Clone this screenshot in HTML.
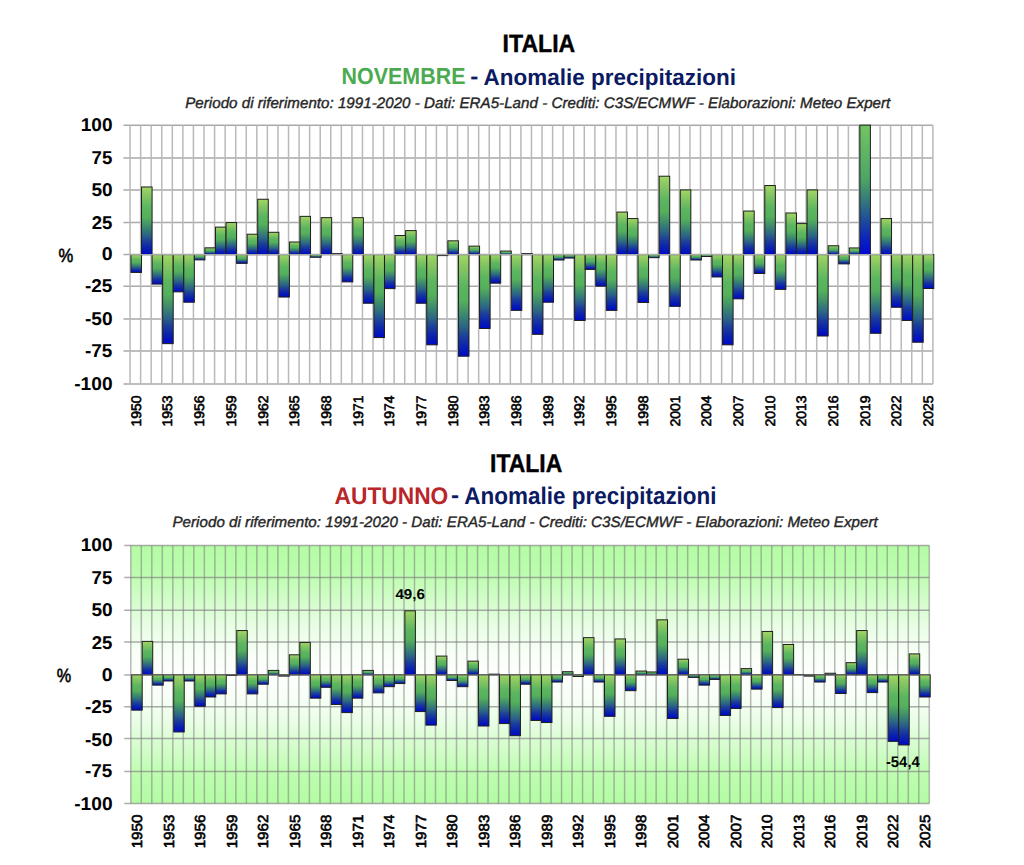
<!DOCTYPE html>
<html><head><meta charset="utf-8"><style>
html,body{margin:0;padding:0;background:#fff;width:1024px;height:865px;overflow:hidden}
svg{display:block}
text{font-family:"Liberation Sans",sans-serif;text-rendering:geometricPrecision}
</style></head><body>
<svg width="1024" height="865" viewBox="0 0 1024 865">
<defs>
<linearGradient id="bar" x1="0" y1="0" x2="0" y2="1">
 <stop offset="0" stop-color="#a2da68"/>
 <stop offset="0.06" stop-color="#94ce63"/>
 <stop offset="0.10" stop-color="#8cc862"/>
 <stop offset="0.30" stop-color="#5cb660"/>
 <stop offset="0.45" stop-color="#55b05c"/>
 <stop offset="0.58" stop-color="#3f8c6c"/>
 <stop offset="0.65" stop-color="#33767a"/>
 <stop offset="0.71" stop-color="#2b6486"/>
 <stop offset="0.81" stop-color="#1b3c9c"/>
 <stop offset="0.88" stop-color="#0e28aa"/>
 <stop offset="0.94" stop-color="#0518b8"/>
 <stop offset="1" stop-color="#0008c8"/>
</linearGradient>
<linearGradient id="g1top" x1="0" y1="0" x2="0" y2="1">
 <stop offset="0" stop-color="#72c462"/>
 <stop offset="0.42" stop-color="#4ca566"/>
 <stop offset="0.58" stop-color="#357a7a"/>
 <stop offset="0.73" stop-color="#1e4d9a"/>
 <stop offset="0.89" stop-color="#0a20c0"/>
 <stop offset="1" stop-color="#0008d8"/>
</linearGradient>
<linearGradient id="bg2" x1="0" y1="0" x2="0" y2="1">
 <stop offset="0" stop-color="#b4fca4"/>
 <stop offset="0.10" stop-color="#bbfdad"/>
 <stop offset="0.21" stop-color="#d2fdc9"/>
 <stop offset="0.31" stop-color="#e8fee4"/>
 <stop offset="0.42" stop-color="#f8fff7"/>
 <stop offset="0.5" stop-color="#fdfffd"/>
 <stop offset="0.58" stop-color="#f8fff7"/>
 <stop offset="0.69" stop-color="#e8fee4"/>
 <stop offset="0.79" stop-color="#d2fdc9"/>
 <stop offset="0.90" stop-color="#bbfdad"/>
 <stop offset="1" stop-color="#b4fca4"/>
</linearGradient>
</defs>
<rect width="1024" height="865" fill="#fff"/>
<line x1="123.46" y1="125.15" x2="932.90" y2="125.15" stroke="#a9a9a9" stroke-width="1.5"/>
<line x1="123.46" y1="157.90" x2="932.90" y2="157.90" stroke="#a9a9a9" stroke-width="1.5"/>
<line x1="123.46" y1="189.90" x2="932.90" y2="189.90" stroke="#a9a9a9" stroke-width="1.5"/>
<line x1="123.46" y1="222.50" x2="932.90" y2="222.50" stroke="#a9a9a9" stroke-width="1.5"/>
<line x1="123.46" y1="254.60" x2="932.90" y2="254.60" stroke="#a9a9a9" stroke-width="1.5"/>
<line x1="123.46" y1="286.20" x2="932.90" y2="286.20" stroke="#a9a9a9" stroke-width="1.5"/>
<line x1="123.46" y1="319.10" x2="932.90" y2="319.10" stroke="#a9a9a9" stroke-width="1.5"/>
<line x1="123.46" y1="351.00" x2="932.90" y2="351.00" stroke="#a9a9a9" stroke-width="1.5"/>
<line x1="123.46" y1="384.05" x2="932.90" y2="384.05" stroke="#a9a9a9" stroke-width="1.5"/>
<line x1="130.06" y1="125.15" x2="130.06" y2="384.05" stroke="#b9b9b9" stroke-width="1.5"/>
<line x1="140.62" y1="125.15" x2="140.62" y2="384.05" stroke="#b9b9b9" stroke-width="1.5"/>
<line x1="151.19" y1="125.15" x2="151.19" y2="384.05" stroke="#b9b9b9" stroke-width="1.5"/>
<line x1="161.75" y1="125.15" x2="161.75" y2="384.05" stroke="#b9b9b9" stroke-width="1.5"/>
<line x1="172.31" y1="125.15" x2="172.31" y2="384.05" stroke="#b9b9b9" stroke-width="1.5"/>
<line x1="182.88" y1="125.15" x2="182.88" y2="384.05" stroke="#b9b9b9" stroke-width="1.5"/>
<line x1="193.44" y1="125.15" x2="193.44" y2="384.05" stroke="#b9b9b9" stroke-width="1.5"/>
<line x1="204.01" y1="125.15" x2="204.01" y2="384.05" stroke="#b9b9b9" stroke-width="1.5"/>
<line x1="214.57" y1="125.15" x2="214.57" y2="384.05" stroke="#b9b9b9" stroke-width="1.5"/>
<line x1="225.13" y1="125.15" x2="225.13" y2="384.05" stroke="#b9b9b9" stroke-width="1.5"/>
<line x1="235.70" y1="125.15" x2="235.70" y2="384.05" stroke="#b9b9b9" stroke-width="1.5"/>
<line x1="246.26" y1="125.15" x2="246.26" y2="384.05" stroke="#b9b9b9" stroke-width="1.5"/>
<line x1="256.82" y1="125.15" x2="256.82" y2="384.05" stroke="#b9b9b9" stroke-width="1.5"/>
<line x1="267.39" y1="125.15" x2="267.39" y2="384.05" stroke="#b9b9b9" stroke-width="1.5"/>
<line x1="277.95" y1="125.15" x2="277.95" y2="384.05" stroke="#b9b9b9" stroke-width="1.5"/>
<line x1="288.52" y1="125.15" x2="288.52" y2="384.05" stroke="#b9b9b9" stroke-width="1.5"/>
<line x1="299.08" y1="125.15" x2="299.08" y2="384.05" stroke="#b9b9b9" stroke-width="1.5"/>
<line x1="309.64" y1="125.15" x2="309.64" y2="384.05" stroke="#b9b9b9" stroke-width="1.5"/>
<line x1="320.21" y1="125.15" x2="320.21" y2="384.05" stroke="#b9b9b9" stroke-width="1.5"/>
<line x1="330.77" y1="125.15" x2="330.77" y2="384.05" stroke="#b9b9b9" stroke-width="1.5"/>
<line x1="341.33" y1="125.15" x2="341.33" y2="384.05" stroke="#b9b9b9" stroke-width="1.5"/>
<line x1="351.90" y1="125.15" x2="351.90" y2="384.05" stroke="#b9b9b9" stroke-width="1.5"/>
<line x1="362.46" y1="125.15" x2="362.46" y2="384.05" stroke="#b9b9b9" stroke-width="1.5"/>
<line x1="373.02" y1="125.15" x2="373.02" y2="384.05" stroke="#b9b9b9" stroke-width="1.5"/>
<line x1="383.59" y1="125.15" x2="383.59" y2="384.05" stroke="#b9b9b9" stroke-width="1.5"/>
<line x1="394.15" y1="125.15" x2="394.15" y2="384.05" stroke="#b9b9b9" stroke-width="1.5"/>
<line x1="404.72" y1="125.15" x2="404.72" y2="384.05" stroke="#b9b9b9" stroke-width="1.5"/>
<line x1="415.28" y1="125.15" x2="415.28" y2="384.05" stroke="#b9b9b9" stroke-width="1.5"/>
<line x1="425.84" y1="125.15" x2="425.84" y2="384.05" stroke="#b9b9b9" stroke-width="1.5"/>
<line x1="436.41" y1="125.15" x2="436.41" y2="384.05" stroke="#b9b9b9" stroke-width="1.5"/>
<line x1="446.97" y1="125.15" x2="446.97" y2="384.05" stroke="#b9b9b9" stroke-width="1.5"/>
<line x1="457.53" y1="125.15" x2="457.53" y2="384.05" stroke="#b9b9b9" stroke-width="1.5"/>
<line x1="468.10" y1="125.15" x2="468.10" y2="384.05" stroke="#b9b9b9" stroke-width="1.5"/>
<line x1="478.66" y1="125.15" x2="478.66" y2="384.05" stroke="#b9b9b9" stroke-width="1.5"/>
<line x1="489.23" y1="125.15" x2="489.23" y2="384.05" stroke="#b9b9b9" stroke-width="1.5"/>
<line x1="499.79" y1="125.15" x2="499.79" y2="384.05" stroke="#b9b9b9" stroke-width="1.5"/>
<line x1="510.35" y1="125.15" x2="510.35" y2="384.05" stroke="#b9b9b9" stroke-width="1.5"/>
<line x1="520.92" y1="125.15" x2="520.92" y2="384.05" stroke="#b9b9b9" stroke-width="1.5"/>
<line x1="531.48" y1="125.15" x2="531.48" y2="384.05" stroke="#b9b9b9" stroke-width="1.5"/>
<line x1="542.04" y1="125.15" x2="542.04" y2="384.05" stroke="#b9b9b9" stroke-width="1.5"/>
<line x1="552.61" y1="125.15" x2="552.61" y2="384.05" stroke="#b9b9b9" stroke-width="1.5"/>
<line x1="563.17" y1="125.15" x2="563.17" y2="384.05" stroke="#b9b9b9" stroke-width="1.5"/>
<line x1="573.73" y1="125.15" x2="573.73" y2="384.05" stroke="#b9b9b9" stroke-width="1.5"/>
<line x1="584.30" y1="125.15" x2="584.30" y2="384.05" stroke="#b9b9b9" stroke-width="1.5"/>
<line x1="594.86" y1="125.15" x2="594.86" y2="384.05" stroke="#b9b9b9" stroke-width="1.5"/>
<line x1="605.43" y1="125.15" x2="605.43" y2="384.05" stroke="#b9b9b9" stroke-width="1.5"/>
<line x1="615.99" y1="125.15" x2="615.99" y2="384.05" stroke="#b9b9b9" stroke-width="1.5"/>
<line x1="626.55" y1="125.15" x2="626.55" y2="384.05" stroke="#b9b9b9" stroke-width="1.5"/>
<line x1="637.12" y1="125.15" x2="637.12" y2="384.05" stroke="#b9b9b9" stroke-width="1.5"/>
<line x1="647.68" y1="125.15" x2="647.68" y2="384.05" stroke="#b9b9b9" stroke-width="1.5"/>
<line x1="658.24" y1="125.15" x2="658.24" y2="384.05" stroke="#b9b9b9" stroke-width="1.5"/>
<line x1="668.81" y1="125.15" x2="668.81" y2="384.05" stroke="#b9b9b9" stroke-width="1.5"/>
<line x1="679.37" y1="125.15" x2="679.37" y2="384.05" stroke="#b9b9b9" stroke-width="1.5"/>
<line x1="689.94" y1="125.15" x2="689.94" y2="384.05" stroke="#b9b9b9" stroke-width="1.5"/>
<line x1="700.50" y1="125.15" x2="700.50" y2="384.05" stroke="#b9b9b9" stroke-width="1.5"/>
<line x1="711.06" y1="125.15" x2="711.06" y2="384.05" stroke="#b9b9b9" stroke-width="1.5"/>
<line x1="721.63" y1="125.15" x2="721.63" y2="384.05" stroke="#b9b9b9" stroke-width="1.5"/>
<line x1="732.19" y1="125.15" x2="732.19" y2="384.05" stroke="#b9b9b9" stroke-width="1.5"/>
<line x1="742.75" y1="125.15" x2="742.75" y2="384.05" stroke="#b9b9b9" stroke-width="1.5"/>
<line x1="753.32" y1="125.15" x2="753.32" y2="384.05" stroke="#b9b9b9" stroke-width="1.5"/>
<line x1="763.88" y1="125.15" x2="763.88" y2="384.05" stroke="#b9b9b9" stroke-width="1.5"/>
<line x1="774.44" y1="125.15" x2="774.44" y2="384.05" stroke="#b9b9b9" stroke-width="1.5"/>
<line x1="785.01" y1="125.15" x2="785.01" y2="384.05" stroke="#b9b9b9" stroke-width="1.5"/>
<line x1="795.57" y1="125.15" x2="795.57" y2="384.05" stroke="#b9b9b9" stroke-width="1.5"/>
<line x1="806.14" y1="125.15" x2="806.14" y2="384.05" stroke="#b9b9b9" stroke-width="1.5"/>
<line x1="816.70" y1="125.15" x2="816.70" y2="384.05" stroke="#b9b9b9" stroke-width="1.5"/>
<line x1="827.26" y1="125.15" x2="827.26" y2="384.05" stroke="#b9b9b9" stroke-width="1.5"/>
<line x1="837.83" y1="125.15" x2="837.83" y2="384.05" stroke="#b9b9b9" stroke-width="1.5"/>
<line x1="848.39" y1="125.15" x2="848.39" y2="384.05" stroke="#b9b9b9" stroke-width="1.5"/>
<line x1="858.95" y1="125.15" x2="858.95" y2="384.05" stroke="#b9b9b9" stroke-width="1.5"/>
<line x1="869.52" y1="125.15" x2="869.52" y2="384.05" stroke="#b9b9b9" stroke-width="1.5"/>
<line x1="880.08" y1="125.15" x2="880.08" y2="384.05" stroke="#b9b9b9" stroke-width="1.5"/>
<line x1="890.65" y1="125.15" x2="890.65" y2="384.05" stroke="#b9b9b9" stroke-width="1.5"/>
<line x1="901.21" y1="125.15" x2="901.21" y2="384.05" stroke="#b9b9b9" stroke-width="1.5"/>
<line x1="911.77" y1="125.15" x2="911.77" y2="384.05" stroke="#b9b9b9" stroke-width="1.5"/>
<line x1="922.34" y1="125.15" x2="922.34" y2="384.05" stroke="#b9b9b9" stroke-width="1.5"/>
<line x1="932.90" y1="125.15" x2="932.90" y2="384.05" stroke="#b9b9b9" stroke-width="1.5"/>
<rect x="130.96" y="254.60" width="10.56" height="17.83" fill="url(#bar)" stroke="#1e1e1e" stroke-width="1"/>
<rect x="141.52" y="186.96" width="10.56" height="67.64" fill="url(#bar)" stroke="#1e1e1e" stroke-width="1"/>
<rect x="152.09" y="254.60" width="10.56" height="29.49" fill="url(#bar)" stroke="#1e1e1e" stroke-width="1"/>
<rect x="162.65" y="254.60" width="10.56" height="89.05" fill="url(#bar)" stroke="#1e1e1e" stroke-width="1"/>
<rect x="173.21" y="254.60" width="10.56" height="37.26" fill="url(#bar)" stroke="#1e1e1e" stroke-width="1"/>
<rect x="183.78" y="254.60" width="10.56" height="47.62" fill="url(#bar)" stroke="#1e1e1e" stroke-width="1"/>
<rect x="194.34" y="254.60" width="10.56" height="5.27" fill="url(#bar)" stroke="#1e1e1e" stroke-width="1"/>
<rect x="204.91" y="247.83" width="10.56" height="6.77" fill="url(#bar)" stroke="#1e1e1e" stroke-width="1"/>
<rect x="215.47" y="227.11" width="10.56" height="27.49" fill="url(#bar)" stroke="#1e1e1e" stroke-width="1"/>
<rect x="226.03" y="222.57" width="10.56" height="32.03" fill="url(#bar)" stroke="#1e1e1e" stroke-width="1"/>
<rect x="236.60" y="254.60" width="10.56" height="8.77" fill="url(#bar)" stroke="#1e1e1e" stroke-width="1"/>
<rect x="247.16" y="234.23" width="10.56" height="20.37" fill="url(#bar)" stroke="#1e1e1e" stroke-width="1"/>
<rect x="257.72" y="199.26" width="10.56" height="55.34" fill="url(#bar)" stroke="#1e1e1e" stroke-width="1"/>
<rect x="268.29" y="232.29" width="10.56" height="22.31" fill="url(#bar)" stroke="#1e1e1e" stroke-width="1"/>
<rect x="278.85" y="254.60" width="10.56" height="42.44" fill="url(#bar)" stroke="#1e1e1e" stroke-width="1"/>
<rect x="289.42" y="242.00" width="10.56" height="12.60" fill="url(#bar)" stroke="#1e1e1e" stroke-width="1"/>
<rect x="299.98" y="216.36" width="10.56" height="38.24" fill="url(#bar)" stroke="#1e1e1e" stroke-width="1"/>
<rect x="310.54" y="254.60" width="10.56" height="2.68" fill="url(#bar)" stroke="#1e1e1e" stroke-width="1"/>
<rect x="321.11" y="217.65" width="10.56" height="36.95" fill="url(#bar)" stroke="#1e1e1e" stroke-width="1"/>
<rect x="331.67" y="253.65" width="10.56" height="0.95" fill="#1b5e8a" stroke="#222" stroke-width="1"/>
<rect x="342.23" y="254.60" width="10.56" height="27.28" fill="url(#bar)" stroke="#1e1e1e" stroke-width="1"/>
<rect x="352.80" y="217.65" width="10.56" height="36.95" fill="url(#bar)" stroke="#1e1e1e" stroke-width="1"/>
<rect x="363.36" y="254.60" width="10.56" height="48.65" fill="url(#bar)" stroke="#1e1e1e" stroke-width="1"/>
<rect x="373.92" y="254.60" width="10.56" height="82.97" fill="url(#bar)" stroke="#1e1e1e" stroke-width="1"/>
<rect x="384.49" y="254.60" width="10.56" height="34.02" fill="url(#bar)" stroke="#1e1e1e" stroke-width="1"/>
<rect x="395.05" y="235.52" width="10.56" height="19.08" fill="url(#bar)" stroke="#1e1e1e" stroke-width="1"/>
<rect x="405.62" y="230.60" width="10.56" height="24.00" fill="url(#bar)" stroke="#1e1e1e" stroke-width="1"/>
<rect x="416.18" y="254.60" width="10.56" height="48.65" fill="url(#bar)" stroke="#1e1e1e" stroke-width="1"/>
<rect x="426.74" y="254.60" width="10.56" height="90.22" fill="url(#bar)" stroke="#1e1e1e" stroke-width="1"/>
<rect x="437.31" y="254.60" width="10.56" height="1.00" fill="#1b5e8a" stroke="#222" stroke-width="1"/>
<rect x="447.87" y="240.83" width="10.56" height="13.77" fill="url(#bar)" stroke="#1e1e1e" stroke-width="1"/>
<rect x="458.43" y="254.60" width="10.56" height="101.62" fill="url(#bar)" stroke="#1e1e1e" stroke-width="1"/>
<rect x="469.00" y="246.14" width="10.56" height="8.46" fill="url(#bar)" stroke="#1e1e1e" stroke-width="1"/>
<rect x="479.56" y="254.60" width="10.56" height="73.90" fill="url(#bar)" stroke="#1e1e1e" stroke-width="1"/>
<rect x="490.13" y="254.60" width="10.56" height="28.58" fill="url(#bar)" stroke="#1e1e1e" stroke-width="1"/>
<rect x="500.69" y="251.06" width="10.56" height="3.54" fill="url(#bar)" stroke="#1e1e1e" stroke-width="1"/>
<rect x="511.25" y="254.60" width="10.56" height="55.77" fill="url(#bar)" stroke="#1e1e1e" stroke-width="1"/>
<rect x="521.82" y="253.65" width="10.56" height="0.95" fill="#1b5e8a" stroke="#222" stroke-width="1"/>
<rect x="532.38" y="254.60" width="10.56" height="79.73" fill="url(#bar)" stroke="#1e1e1e" stroke-width="1"/>
<rect x="542.94" y="254.60" width="10.56" height="47.62" fill="url(#bar)" stroke="#1e1e1e" stroke-width="1"/>
<rect x="553.51" y="254.60" width="10.56" height="5.40" fill="url(#bar)" stroke="#1e1e1e" stroke-width="1"/>
<rect x="564.07" y="254.60" width="10.56" height="3.46" fill="url(#bar)" stroke="#1e1e1e" stroke-width="1"/>
<rect x="574.63" y="254.60" width="10.56" height="65.87" fill="url(#bar)" stroke="#1e1e1e" stroke-width="1"/>
<rect x="585.20" y="254.60" width="10.56" height="14.85" fill="url(#bar)" stroke="#1e1e1e" stroke-width="1"/>
<rect x="595.76" y="254.60" width="10.56" height="31.56" fill="url(#bar)" stroke="#1e1e1e" stroke-width="1"/>
<rect x="606.33" y="254.60" width="10.56" height="55.77" fill="url(#bar)" stroke="#1e1e1e" stroke-width="1"/>
<rect x="616.89" y="212.08" width="10.56" height="42.52" fill="url(#bar)" stroke="#1e1e1e" stroke-width="1"/>
<rect x="627.45" y="218.56" width="10.56" height="36.04" fill="url(#bar)" stroke="#1e1e1e" stroke-width="1"/>
<rect x="638.02" y="254.60" width="10.56" height="47.87" fill="url(#bar)" stroke="#1e1e1e" stroke-width="1"/>
<rect x="648.58" y="254.60" width="10.56" height="3.07" fill="url(#bar)" stroke="#1e1e1e" stroke-width="1"/>
<rect x="659.14" y="176.21" width="10.56" height="78.39" fill="url(#bar)" stroke="#1e1e1e" stroke-width="1"/>
<rect x="669.71" y="254.60" width="10.56" height="51.76" fill="url(#bar)" stroke="#1e1e1e" stroke-width="1"/>
<rect x="680.27" y="189.94" width="10.56" height="64.66" fill="url(#bar)" stroke="#1e1e1e" stroke-width="1"/>
<rect x="690.84" y="254.60" width="10.56" height="5.40" fill="url(#bar)" stroke="#1e1e1e" stroke-width="1"/>
<rect x="701.40" y="254.60" width="10.56" height="1.90" fill="url(#bar)" stroke="#1e1e1e" stroke-width="1"/>
<rect x="711.96" y="254.60" width="10.56" height="22.36" fill="url(#bar)" stroke="#1e1e1e" stroke-width="1"/>
<rect x="722.53" y="254.60" width="10.56" height="90.22" fill="url(#bar)" stroke="#1e1e1e" stroke-width="1"/>
<rect x="733.09" y="254.60" width="10.56" height="44.25" fill="url(#bar)" stroke="#1e1e1e" stroke-width="1"/>
<rect x="743.65" y="211.05" width="10.56" height="43.55" fill="url(#bar)" stroke="#1e1e1e" stroke-width="1"/>
<rect x="754.22" y="254.60" width="10.56" height="18.87" fill="url(#bar)" stroke="#1e1e1e" stroke-width="1"/>
<rect x="764.78" y="185.54" width="10.56" height="69.06" fill="url(#bar)" stroke="#1e1e1e" stroke-width="1"/>
<rect x="775.34" y="254.60" width="10.56" height="34.79" fill="url(#bar)" stroke="#1e1e1e" stroke-width="1"/>
<rect x="785.91" y="212.99" width="10.56" height="41.61" fill="url(#bar)" stroke="#1e1e1e" stroke-width="1"/>
<rect x="796.47" y="223.61" width="10.56" height="30.99" fill="url(#bar)" stroke="#1e1e1e" stroke-width="1"/>
<rect x="807.04" y="189.94" width="10.56" height="64.66" fill="url(#bar)" stroke="#1e1e1e" stroke-width="1"/>
<rect x="817.60" y="254.60" width="10.56" height="81.41" fill="url(#bar)" stroke="#1e1e1e" stroke-width="1"/>
<rect x="828.16" y="245.75" width="10.56" height="8.85" fill="url(#bar)" stroke="#1e1e1e" stroke-width="1"/>
<rect x="838.73" y="254.60" width="10.56" height="9.28" fill="url(#bar)" stroke="#1e1e1e" stroke-width="1"/>
<rect x="849.29" y="247.95" width="10.56" height="6.65" fill="url(#bar)" stroke="#1e1e1e" stroke-width="1"/>
<rect x="859.85" y="125.15" width="10.56" height="129.45" fill="url(#g1top)" stroke="#1e1e1e" stroke-width="1"/>
<rect x="870.42" y="254.60" width="10.56" height="78.70" fill="url(#bar)" stroke="#1e1e1e" stroke-width="1"/>
<rect x="880.98" y="218.56" width="10.56" height="36.04" fill="url(#bar)" stroke="#1e1e1e" stroke-width="1"/>
<rect x="891.55" y="254.60" width="10.56" height="52.67" fill="url(#bar)" stroke="#1e1e1e" stroke-width="1"/>
<rect x="902.11" y="254.60" width="10.56" height="65.87" fill="url(#bar)" stroke="#1e1e1e" stroke-width="1"/>
<rect x="912.67" y="254.60" width="10.56" height="87.63" fill="url(#bar)" stroke="#1e1e1e" stroke-width="1"/>
<rect x="923.24" y="254.60" width="10.56" height="33.89" fill="url(#bar)" stroke="#1e1e1e" stroke-width="1"/>
<line x1="130.06" y1="254.60" x2="932.90" y2="254.60" stroke="#a9a9a9" stroke-width="1.3"/>
<rect x="130.8" y="545.6" width="798.5" height="257.79999999999995" fill="url(#bg2)"/>
<line x1="124.20" y1="545.60" x2="929.30" y2="545.60" stroke="rgba(128,128,128,0.65)" stroke-width="1.5"/>
<line x1="124.20" y1="577.50" x2="929.30" y2="577.50" stroke="rgba(128,128,128,0.65)" stroke-width="1.5"/>
<line x1="124.20" y1="610.30" x2="929.30" y2="610.30" stroke="rgba(128,128,128,0.65)" stroke-width="1.5"/>
<line x1="124.20" y1="642.00" x2="929.30" y2="642.00" stroke="rgba(128,128,128,0.65)" stroke-width="1.5"/>
<line x1="124.20" y1="674.90" x2="929.30" y2="674.90" stroke="rgba(128,128,128,0.65)" stroke-width="1.5"/>
<line x1="124.20" y1="706.70" x2="929.30" y2="706.70" stroke="rgba(128,128,128,0.65)" stroke-width="1.5"/>
<line x1="124.20" y1="738.60" x2="929.30" y2="738.60" stroke="rgba(128,128,128,0.65)" stroke-width="1.5"/>
<line x1="124.20" y1="771.60" x2="929.30" y2="771.60" stroke="rgba(128,128,128,0.65)" stroke-width="1.5"/>
<line x1="124.20" y1="803.40" x2="929.30" y2="803.40" stroke="rgba(128,128,128,0.65)" stroke-width="1.5"/>
<line x1="130.80" y1="545.60" x2="130.80" y2="803.40" stroke="rgba(128,128,128,0.55)" stroke-width="1.5"/>
<line x1="141.31" y1="545.60" x2="141.31" y2="803.40" stroke="rgba(128,128,128,0.55)" stroke-width="1.5"/>
<line x1="151.81" y1="545.60" x2="151.81" y2="803.40" stroke="rgba(128,128,128,0.55)" stroke-width="1.5"/>
<line x1="162.32" y1="545.60" x2="162.32" y2="803.40" stroke="rgba(128,128,128,0.55)" stroke-width="1.5"/>
<line x1="172.83" y1="545.60" x2="172.83" y2="803.40" stroke="rgba(128,128,128,0.55)" stroke-width="1.5"/>
<line x1="183.33" y1="545.60" x2="183.33" y2="803.40" stroke="rgba(128,128,128,0.55)" stroke-width="1.5"/>
<line x1="193.84" y1="545.60" x2="193.84" y2="803.40" stroke="rgba(128,128,128,0.55)" stroke-width="1.5"/>
<line x1="204.35" y1="545.60" x2="204.35" y2="803.40" stroke="rgba(128,128,128,0.55)" stroke-width="1.5"/>
<line x1="214.85" y1="545.60" x2="214.85" y2="803.40" stroke="rgba(128,128,128,0.55)" stroke-width="1.5"/>
<line x1="225.36" y1="545.60" x2="225.36" y2="803.40" stroke="rgba(128,128,128,0.55)" stroke-width="1.5"/>
<line x1="235.87" y1="545.60" x2="235.87" y2="803.40" stroke="rgba(128,128,128,0.55)" stroke-width="1.5"/>
<line x1="246.37" y1="545.60" x2="246.37" y2="803.40" stroke="rgba(128,128,128,0.55)" stroke-width="1.5"/>
<line x1="256.88" y1="545.60" x2="256.88" y2="803.40" stroke="rgba(128,128,128,0.55)" stroke-width="1.5"/>
<line x1="267.39" y1="545.60" x2="267.39" y2="803.40" stroke="rgba(128,128,128,0.55)" stroke-width="1.5"/>
<line x1="277.89" y1="545.60" x2="277.89" y2="803.40" stroke="rgba(128,128,128,0.55)" stroke-width="1.5"/>
<line x1="288.40" y1="545.60" x2="288.40" y2="803.40" stroke="rgba(128,128,128,0.55)" stroke-width="1.5"/>
<line x1="298.91" y1="545.60" x2="298.91" y2="803.40" stroke="rgba(128,128,128,0.55)" stroke-width="1.5"/>
<line x1="309.41" y1="545.60" x2="309.41" y2="803.40" stroke="rgba(128,128,128,0.55)" stroke-width="1.5"/>
<line x1="319.92" y1="545.60" x2="319.92" y2="803.40" stroke="rgba(128,128,128,0.55)" stroke-width="1.5"/>
<line x1="330.43" y1="545.60" x2="330.43" y2="803.40" stroke="rgba(128,128,128,0.55)" stroke-width="1.5"/>
<line x1="340.93" y1="545.60" x2="340.93" y2="803.40" stroke="rgba(128,128,128,0.55)" stroke-width="1.5"/>
<line x1="351.44" y1="545.60" x2="351.44" y2="803.40" stroke="rgba(128,128,128,0.55)" stroke-width="1.5"/>
<line x1="361.94" y1="545.60" x2="361.94" y2="803.40" stroke="rgba(128,128,128,0.55)" stroke-width="1.5"/>
<line x1="372.45" y1="545.60" x2="372.45" y2="803.40" stroke="rgba(128,128,128,0.55)" stroke-width="1.5"/>
<line x1="382.96" y1="545.60" x2="382.96" y2="803.40" stroke="rgba(128,128,128,0.55)" stroke-width="1.5"/>
<line x1="393.46" y1="545.60" x2="393.46" y2="803.40" stroke="rgba(128,128,128,0.55)" stroke-width="1.5"/>
<line x1="403.97" y1="545.60" x2="403.97" y2="803.40" stroke="rgba(128,128,128,0.55)" stroke-width="1.5"/>
<line x1="414.48" y1="545.60" x2="414.48" y2="803.40" stroke="rgba(128,128,128,0.55)" stroke-width="1.5"/>
<line x1="424.98" y1="545.60" x2="424.98" y2="803.40" stroke="rgba(128,128,128,0.55)" stroke-width="1.5"/>
<line x1="435.49" y1="545.60" x2="435.49" y2="803.40" stroke="rgba(128,128,128,0.55)" stroke-width="1.5"/>
<line x1="446.00" y1="545.60" x2="446.00" y2="803.40" stroke="rgba(128,128,128,0.55)" stroke-width="1.5"/>
<line x1="456.50" y1="545.60" x2="456.50" y2="803.40" stroke="rgba(128,128,128,0.55)" stroke-width="1.5"/>
<line x1="467.01" y1="545.60" x2="467.01" y2="803.40" stroke="rgba(128,128,128,0.55)" stroke-width="1.5"/>
<line x1="477.52" y1="545.60" x2="477.52" y2="803.40" stroke="rgba(128,128,128,0.55)" stroke-width="1.5"/>
<line x1="488.02" y1="545.60" x2="488.02" y2="803.40" stroke="rgba(128,128,128,0.55)" stroke-width="1.5"/>
<line x1="498.53" y1="545.60" x2="498.53" y2="803.40" stroke="rgba(128,128,128,0.55)" stroke-width="1.5"/>
<line x1="509.04" y1="545.60" x2="509.04" y2="803.40" stroke="rgba(128,128,128,0.55)" stroke-width="1.5"/>
<line x1="519.54" y1="545.60" x2="519.54" y2="803.40" stroke="rgba(128,128,128,0.55)" stroke-width="1.5"/>
<line x1="530.05" y1="545.60" x2="530.05" y2="803.40" stroke="rgba(128,128,128,0.55)" stroke-width="1.5"/>
<line x1="540.56" y1="545.60" x2="540.56" y2="803.40" stroke="rgba(128,128,128,0.55)" stroke-width="1.5"/>
<line x1="551.06" y1="545.60" x2="551.06" y2="803.40" stroke="rgba(128,128,128,0.55)" stroke-width="1.5"/>
<line x1="561.57" y1="545.60" x2="561.57" y2="803.40" stroke="rgba(128,128,128,0.55)" stroke-width="1.5"/>
<line x1="572.08" y1="545.60" x2="572.08" y2="803.40" stroke="rgba(128,128,128,0.55)" stroke-width="1.5"/>
<line x1="582.58" y1="545.60" x2="582.58" y2="803.40" stroke="rgba(128,128,128,0.55)" stroke-width="1.5"/>
<line x1="593.09" y1="545.60" x2="593.09" y2="803.40" stroke="rgba(128,128,128,0.55)" stroke-width="1.5"/>
<line x1="603.60" y1="545.60" x2="603.60" y2="803.40" stroke="rgba(128,128,128,0.55)" stroke-width="1.5"/>
<line x1="614.10" y1="545.60" x2="614.10" y2="803.40" stroke="rgba(128,128,128,0.55)" stroke-width="1.5"/>
<line x1="624.61" y1="545.60" x2="624.61" y2="803.40" stroke="rgba(128,128,128,0.55)" stroke-width="1.5"/>
<line x1="635.12" y1="545.60" x2="635.12" y2="803.40" stroke="rgba(128,128,128,0.55)" stroke-width="1.5"/>
<line x1="645.62" y1="545.60" x2="645.62" y2="803.40" stroke="rgba(128,128,128,0.55)" stroke-width="1.5"/>
<line x1="656.13" y1="545.60" x2="656.13" y2="803.40" stroke="rgba(128,128,128,0.55)" stroke-width="1.5"/>
<line x1="666.64" y1="545.60" x2="666.64" y2="803.40" stroke="rgba(128,128,128,0.55)" stroke-width="1.5"/>
<line x1="677.14" y1="545.60" x2="677.14" y2="803.40" stroke="rgba(128,128,128,0.55)" stroke-width="1.5"/>
<line x1="687.65" y1="545.60" x2="687.65" y2="803.40" stroke="rgba(128,128,128,0.55)" stroke-width="1.5"/>
<line x1="698.16" y1="545.60" x2="698.16" y2="803.40" stroke="rgba(128,128,128,0.55)" stroke-width="1.5"/>
<line x1="708.66" y1="545.60" x2="708.66" y2="803.40" stroke="rgba(128,128,128,0.55)" stroke-width="1.5"/>
<line x1="719.17" y1="545.60" x2="719.17" y2="803.40" stroke="rgba(128,128,128,0.55)" stroke-width="1.5"/>
<line x1="729.67" y1="545.60" x2="729.67" y2="803.40" stroke="rgba(128,128,128,0.55)" stroke-width="1.5"/>
<line x1="740.18" y1="545.60" x2="740.18" y2="803.40" stroke="rgba(128,128,128,0.55)" stroke-width="1.5"/>
<line x1="750.69" y1="545.60" x2="750.69" y2="803.40" stroke="rgba(128,128,128,0.55)" stroke-width="1.5"/>
<line x1="761.19" y1="545.60" x2="761.19" y2="803.40" stroke="rgba(128,128,128,0.55)" stroke-width="1.5"/>
<line x1="771.70" y1="545.60" x2="771.70" y2="803.40" stroke="rgba(128,128,128,0.55)" stroke-width="1.5"/>
<line x1="782.21" y1="545.60" x2="782.21" y2="803.40" stroke="rgba(128,128,128,0.55)" stroke-width="1.5"/>
<line x1="792.71" y1="545.60" x2="792.71" y2="803.40" stroke="rgba(128,128,128,0.55)" stroke-width="1.5"/>
<line x1="803.22" y1="545.60" x2="803.22" y2="803.40" stroke="rgba(128,128,128,0.55)" stroke-width="1.5"/>
<line x1="813.73" y1="545.60" x2="813.73" y2="803.40" stroke="rgba(128,128,128,0.55)" stroke-width="1.5"/>
<line x1="824.23" y1="545.60" x2="824.23" y2="803.40" stroke="rgba(128,128,128,0.55)" stroke-width="1.5"/>
<line x1="834.74" y1="545.60" x2="834.74" y2="803.40" stroke="rgba(128,128,128,0.55)" stroke-width="1.5"/>
<line x1="845.25" y1="545.60" x2="845.25" y2="803.40" stroke="rgba(128,128,128,0.55)" stroke-width="1.5"/>
<line x1="855.75" y1="545.60" x2="855.75" y2="803.40" stroke="rgba(128,128,128,0.55)" stroke-width="1.5"/>
<line x1="866.26" y1="545.60" x2="866.26" y2="803.40" stroke="rgba(128,128,128,0.55)" stroke-width="1.5"/>
<line x1="876.77" y1="545.60" x2="876.77" y2="803.40" stroke="rgba(128,128,128,0.55)" stroke-width="1.5"/>
<line x1="887.27" y1="545.60" x2="887.27" y2="803.40" stroke="rgba(128,128,128,0.55)" stroke-width="1.5"/>
<line x1="897.78" y1="545.60" x2="897.78" y2="803.40" stroke="rgba(128,128,128,0.55)" stroke-width="1.5"/>
<line x1="908.29" y1="545.60" x2="908.29" y2="803.40" stroke="rgba(128,128,128,0.55)" stroke-width="1.5"/>
<line x1="918.79" y1="545.60" x2="918.79" y2="803.40" stroke="rgba(128,128,128,0.55)" stroke-width="1.5"/>
<line x1="929.30" y1="545.60" x2="929.30" y2="803.40" stroke="rgba(128,128,128,0.55)" stroke-width="1.5"/>
<rect x="131.70" y="674.80" width="10.51" height="35.35" fill="url(#bar)" stroke="#1e1e1e" stroke-width="1"/>
<rect x="142.21" y="641.39" width="10.51" height="33.41" fill="url(#bar)" stroke="#1e1e1e" stroke-width="1"/>
<rect x="152.71" y="674.80" width="10.51" height="10.32" fill="url(#bar)" stroke="#1e1e1e" stroke-width="1"/>
<rect x="163.22" y="674.80" width="10.51" height="6.19" fill="url(#bar)" stroke="#1e1e1e" stroke-width="1"/>
<rect x="173.73" y="674.80" width="10.51" height="57.15" fill="url(#bar)" stroke="#1e1e1e" stroke-width="1"/>
<rect x="184.23" y="674.80" width="10.51" height="6.19" fill="url(#bar)" stroke="#1e1e1e" stroke-width="1"/>
<rect x="194.74" y="674.80" width="10.51" height="31.48" fill="url(#bar)" stroke="#1e1e1e" stroke-width="1"/>
<rect x="205.25" y="674.80" width="10.51" height="22.19" fill="url(#bar)" stroke="#1e1e1e" stroke-width="1"/>
<rect x="215.75" y="674.80" width="10.51" height="19.09" fill="url(#bar)" stroke="#1e1e1e" stroke-width="1"/>
<rect x="226.26" y="674.80" width="10.51" height="0.64" fill="#1b5e8a" stroke="#222" stroke-width="1"/>
<rect x="236.77" y="630.55" width="10.51" height="44.25" fill="url(#bar)" stroke="#1e1e1e" stroke-width="1"/>
<rect x="247.27" y="674.80" width="10.51" height="19.09" fill="url(#bar)" stroke="#1e1e1e" stroke-width="1"/>
<rect x="257.78" y="674.80" width="10.51" height="9.42" fill="url(#bar)" stroke="#1e1e1e" stroke-width="1"/>
<rect x="268.29" y="670.41" width="10.51" height="4.39" fill="url(#bar)" stroke="#1e1e1e" stroke-width="1"/>
<rect x="278.79" y="674.80" width="10.51" height="1.29" fill="url(#bar)" stroke="#1e1e1e" stroke-width="1"/>
<rect x="289.30" y="654.80" width="10.51" height="20.00" fill="url(#bar)" stroke="#1e1e1e" stroke-width="1"/>
<rect x="299.81" y="642.42" width="10.51" height="32.38" fill="url(#bar)" stroke="#1e1e1e" stroke-width="1"/>
<rect x="310.31" y="674.80" width="10.51" height="23.35" fill="url(#bar)" stroke="#1e1e1e" stroke-width="1"/>
<rect x="320.82" y="674.80" width="10.51" height="12.51" fill="url(#bar)" stroke="#1e1e1e" stroke-width="1"/>
<rect x="331.32" y="674.80" width="10.51" height="29.67" fill="url(#bar)" stroke="#1e1e1e" stroke-width="1"/>
<rect x="341.83" y="674.80" width="10.51" height="37.80" fill="url(#bar)" stroke="#1e1e1e" stroke-width="1"/>
<rect x="352.34" y="674.80" width="10.51" height="23.35" fill="url(#bar)" stroke="#1e1e1e" stroke-width="1"/>
<rect x="362.84" y="670.41" width="10.51" height="4.39" fill="url(#bar)" stroke="#1e1e1e" stroke-width="1"/>
<rect x="373.35" y="674.80" width="10.51" height="18.06" fill="url(#bar)" stroke="#1e1e1e" stroke-width="1"/>
<rect x="383.86" y="674.80" width="10.51" height="11.87" fill="url(#bar)" stroke="#1e1e1e" stroke-width="1"/>
<rect x="394.36" y="674.80" width="10.51" height="8.77" fill="url(#bar)" stroke="#1e1e1e" stroke-width="1"/>
<rect x="404.87" y="610.82" width="10.51" height="63.98" fill="url(#bar)" stroke="#1e1e1e" stroke-width="1"/>
<rect x="415.38" y="674.80" width="10.51" height="36.76" fill="url(#bar)" stroke="#1e1e1e" stroke-width="1"/>
<rect x="425.88" y="674.80" width="10.51" height="50.31" fill="url(#bar)" stroke="#1e1e1e" stroke-width="1"/>
<rect x="436.39" y="656.09" width="10.51" height="18.71" fill="url(#bar)" stroke="#1e1e1e" stroke-width="1"/>
<rect x="446.90" y="674.80" width="10.51" height="5.68" fill="url(#bar)" stroke="#1e1e1e" stroke-width="1"/>
<rect x="457.40" y="674.80" width="10.51" height="11.87" fill="url(#bar)" stroke="#1e1e1e" stroke-width="1"/>
<rect x="467.91" y="661.13" width="10.51" height="13.67" fill="url(#bar)" stroke="#1e1e1e" stroke-width="1"/>
<rect x="478.42" y="674.80" width="10.51" height="51.21" fill="url(#bar)" stroke="#1e1e1e" stroke-width="1"/>
<rect x="488.92" y="674.15" width="10.51" height="0.64" fill="#1b5e8a" stroke="#222" stroke-width="1"/>
<rect x="499.43" y="674.80" width="10.51" height="48.76" fill="url(#bar)" stroke="#1e1e1e" stroke-width="1"/>
<rect x="509.94" y="674.80" width="10.51" height="60.89" fill="url(#bar)" stroke="#1e1e1e" stroke-width="1"/>
<rect x="520.44" y="674.80" width="10.51" height="9.42" fill="url(#bar)" stroke="#1e1e1e" stroke-width="1"/>
<rect x="530.95" y="674.80" width="10.51" height="45.67" fill="url(#bar)" stroke="#1e1e1e" stroke-width="1"/>
<rect x="541.46" y="674.80" width="10.51" height="47.73" fill="url(#bar)" stroke="#1e1e1e" stroke-width="1"/>
<rect x="551.96" y="674.80" width="10.51" height="7.22" fill="url(#bar)" stroke="#1e1e1e" stroke-width="1"/>
<rect x="562.47" y="671.70" width="10.51" height="3.10" fill="url(#bar)" stroke="#1e1e1e" stroke-width="1"/>
<rect x="572.98" y="674.80" width="10.51" height="1.68" fill="url(#bar)" stroke="#1e1e1e" stroke-width="1"/>
<rect x="583.48" y="637.65" width="10.51" height="37.15" fill="url(#bar)" stroke="#1e1e1e" stroke-width="1"/>
<rect x="593.99" y="674.80" width="10.51" height="7.22" fill="url(#bar)" stroke="#1e1e1e" stroke-width="1"/>
<rect x="604.50" y="674.80" width="10.51" height="41.54" fill="url(#bar)" stroke="#1e1e1e" stroke-width="1"/>
<rect x="615.00" y="638.94" width="10.51" height="35.86" fill="url(#bar)" stroke="#1e1e1e" stroke-width="1"/>
<rect x="625.51" y="674.80" width="10.51" height="15.87" fill="url(#bar)" stroke="#1e1e1e" stroke-width="1"/>
<rect x="636.02" y="671.06" width="10.51" height="3.74" fill="url(#bar)" stroke="#1e1e1e" stroke-width="1"/>
<rect x="646.52" y="671.96" width="10.51" height="2.84" fill="url(#bar)" stroke="#1e1e1e" stroke-width="1"/>
<rect x="657.03" y="619.85" width="10.51" height="54.95" fill="url(#bar)" stroke="#1e1e1e" stroke-width="1"/>
<rect x="667.54" y="674.80" width="10.51" height="43.73" fill="url(#bar)" stroke="#1e1e1e" stroke-width="1"/>
<rect x="678.04" y="659.19" width="10.51" height="15.61" fill="url(#bar)" stroke="#1e1e1e" stroke-width="1"/>
<rect x="688.55" y="674.80" width="10.51" height="2.58" fill="url(#bar)" stroke="#1e1e1e" stroke-width="1"/>
<rect x="699.06" y="674.80" width="10.51" height="10.32" fill="url(#bar)" stroke="#1e1e1e" stroke-width="1"/>
<rect x="709.56" y="674.80" width="10.51" height="4.64" fill="url(#bar)" stroke="#1e1e1e" stroke-width="1"/>
<rect x="720.07" y="674.80" width="10.51" height="40.63" fill="url(#bar)" stroke="#1e1e1e" stroke-width="1"/>
<rect x="730.57" y="674.80" width="10.51" height="33.67" fill="url(#bar)" stroke="#1e1e1e" stroke-width="1"/>
<rect x="741.08" y="668.61" width="10.51" height="6.19" fill="url(#bar)" stroke="#1e1e1e" stroke-width="1"/>
<rect x="751.59" y="674.80" width="10.51" height="14.32" fill="url(#bar)" stroke="#1e1e1e" stroke-width="1"/>
<rect x="762.09" y="631.46" width="10.51" height="43.34" fill="url(#bar)" stroke="#1e1e1e" stroke-width="1"/>
<rect x="772.60" y="674.80" width="10.51" height="32.77" fill="url(#bar)" stroke="#1e1e1e" stroke-width="1"/>
<rect x="783.11" y="644.48" width="10.51" height="30.32" fill="url(#bar)" stroke="#1e1e1e" stroke-width="1"/>
<rect x="793.61" y="674.54" width="10.51" height="0.26" fill="#1b5e8a" stroke="#222" stroke-width="1"/>
<rect x="804.12" y="674.80" width="10.51" height="1.29" fill="url(#bar)" stroke="#1e1e1e" stroke-width="1"/>
<rect x="814.63" y="674.80" width="10.51" height="7.22" fill="url(#bar)" stroke="#1e1e1e" stroke-width="1"/>
<rect x="825.13" y="673.25" width="10.51" height="1.55" fill="url(#bar)" stroke="#1e1e1e" stroke-width="1"/>
<rect x="835.64" y="674.80" width="10.51" height="18.71" fill="url(#bar)" stroke="#1e1e1e" stroke-width="1"/>
<rect x="846.15" y="662.67" width="10.51" height="12.13" fill="url(#bar)" stroke="#1e1e1e" stroke-width="1"/>
<rect x="856.65" y="630.55" width="10.51" height="44.25" fill="url(#bar)" stroke="#1e1e1e" stroke-width="1"/>
<rect x="867.16" y="674.80" width="10.51" height="17.80" fill="url(#bar)" stroke="#1e1e1e" stroke-width="1"/>
<rect x="877.67" y="674.80" width="10.51" height="7.22" fill="url(#bar)" stroke="#1e1e1e" stroke-width="1"/>
<rect x="888.17" y="674.80" width="10.51" height="66.56" fill="url(#bar)" stroke="#1e1e1e" stroke-width="1"/>
<rect x="898.68" y="674.80" width="10.51" height="70.18" fill="url(#bar)" stroke="#1e1e1e" stroke-width="1"/>
<rect x="909.19" y="653.90" width="10.51" height="20.90" fill="url(#bar)" stroke="#1e1e1e" stroke-width="1"/>
<rect x="919.69" y="674.80" width="10.51" height="22.19" fill="url(#bar)" stroke="#1e1e1e" stroke-width="1"/>
<line x1="130.80" y1="674.80" x2="929.30" y2="674.80" stroke="rgba(128,128,128,0.65)" stroke-width="1.3"/>
<text transform="matrix(0.23077 0 0 0.25217 502.600 52.100)" font-size="100" font-weight="bold" font-style="normal" fill="#000" stroke="#000" stroke-width="1.6">ITALIA</text>
<text transform="matrix(0.21427 0 0 0.23143 341.607 84.300)" font-size="100" font-weight="bold" font-style="normal" fill="#4caa50">NOVEMBRE</text>
<text transform="matrix(0.24314 0 0 0.23143 470.327 83.500)" font-size="100" font-weight="bold" fill="#0b1a62">-</text>
<text transform="matrix(0.22484 0 0 0.22965 483.588 84.600)" font-size="100" font-weight="bold" font-style="normal" fill="#0b1a62">Anomalie precipitazioni</text>
<text transform="matrix(0.15182 0 0 0.15116 185.194 107.500)" font-size="100" font-weight="normal" font-style="italic" fill="#262626" stroke="#262626" stroke-width="2.6">Periodo di riferimento: 1991-2020 - Dati: ERA5-Land - Crediti: C3S/ECMWF - Elaborazioni: Meteo Expert</text>
<text transform="matrix(0.22913 0 0 0.25362 490.111 471.700)" font-size="100" font-weight="bold" font-style="normal" fill="#000" stroke="#000" stroke-width="1.6">ITALIA</text>
<text transform="matrix(0.22759 0 0 0.24143 334.531 504.000)" font-size="100" font-weight="bold" font-style="normal" fill="#b8262a">AUTUNNO</text>
<text transform="matrix(0.24314 0 0 0.24143 451.027 503.200)" font-size="100" font-weight="bold" fill="#0b1a62">-</text>
<text transform="matrix(0.22471 0 0 0.23983 464.338 504.300)" font-size="100" font-weight="bold" font-style="normal" fill="#0b1a62">Anomalie precipitazioni</text>
<text transform="matrix(0.15184 0 0 0.14971 172.494 526.900)" font-size="100" font-weight="normal" font-style="italic" fill="#262626" stroke="#262626" stroke-width="2.6">Periodo di riferimento: 1991-2020 - Dati: ERA5-Land - Crediti: C3S/ECMWF - Elaborazioni: Meteo Expert</text>
<text transform="matrix(0.19042 0 0 0.18429 80.762 131.000)" font-size="100" font-weight="bold" font-style="normal" fill="#000">100</text>
<text transform="matrix(0.19042 0 0 0.18429 80.762 551.300)" font-size="100" font-weight="bold" font-style="normal" fill="#000">100</text>
<text transform="matrix(0.18654 0 0 0.18696 91.561 163.800)" font-size="100" font-weight="bold" font-style="normal" fill="#000">75</text>
<text transform="matrix(0.18654 0 0 0.18696 91.561 584.100)" font-size="100" font-weight="bold" font-style="normal" fill="#000">75</text>
<text transform="matrix(0.19087 0 0 0.18429 91.377 195.900)" font-size="100" font-weight="bold" font-style="normal" fill="#000">50</text>
<text transform="matrix(0.19087 0 0 0.18429 91.377 616.200)" font-size="100" font-weight="bold" font-style="normal" fill="#000">50</text>
<text transform="matrix(0.18571 0 0 0.18429 91.650 228.500)" font-size="100" font-weight="bold" font-style="normal" fill="#000">25</text>
<text transform="matrix(0.18571 0 0 0.18429 91.650 648.800)" font-size="100" font-weight="bold" font-style="normal" fill="#000">25</text>
<text transform="matrix(0.19579 0 0 0.18429 101.717 260.400)" font-size="100" font-weight="bold" font-style="normal" fill="#000">0</text>
<text transform="matrix(0.19579 0 0 0.18429 101.717 680.700)" font-size="100" font-weight="bold" font-style="normal" fill="#000">0</text>
<text transform="matrix(0.18982 0 0 0.18429 84.941 292.400)" font-size="100" font-weight="bold" font-style="normal" fill="#000">-25</text>
<text transform="matrix(0.18982 0 0 0.18429 84.941 712.700)" font-size="100" font-weight="bold" font-style="normal" fill="#000">-25</text>
<text transform="matrix(0.19121 0 0 0.18429 84.935 325.350)" font-size="100" font-weight="bold" font-style="normal" fill="#000">-50</text>
<text transform="matrix(0.19121 0 0 0.18429 84.935 745.650)" font-size="100" font-weight="bold" font-style="normal" fill="#000">-50</text>
<text transform="matrix(0.18982 0 0 0.18696 84.941 357.100)" font-size="100" font-weight="bold" font-style="normal" fill="#000">-75</text>
<text transform="matrix(0.18982 0 0 0.18696 84.941 777.400)" font-size="100" font-weight="bold" font-style="normal" fill="#000">-75</text>
<text transform="matrix(0.19167 0 0 0.18429 74.233 390.000)" font-size="100" font-weight="bold" font-style="normal" fill="#000">-100</text>
<text transform="matrix(0.19167 0 0 0.18429 74.233 810.300)" font-size="100" font-weight="bold" font-style="normal" fill="#000">-100</text>
<text transform="matrix(0.16646 0 0 0.19137 58.567 261.600)" font-size="100" font-weight="normal" font-style="normal" fill="#000" stroke="#000" stroke-width="3">%</text>
<text transform="matrix(0.16220 0 0 0.19137 56.632 682.200)" font-size="100" font-weight="normal" font-style="normal" fill="#000" stroke="#000" stroke-width="3">%</text>
<text transform="matrix(0 -0.13981 0.13857 0 140.792 426.549)" font-size="100" font-weight="normal" fill="#000" stroke="#000" stroke-width="4.2" stroke-linejoin="round">1950</text>
<text transform="matrix(0 -0.15213 0.14571 0 142.003 848.341)" font-size="100" font-weight="normal" fill="#000" stroke="#000" stroke-width="4.2" stroke-linejoin="round">1950</text>
<text transform="matrix(0 -0.13981 0.13857 0 172.483 426.549)" font-size="100" font-weight="normal" fill="#000" stroke="#000" stroke-width="4.2" stroke-linejoin="round">1953</text>
<text transform="matrix(0 -0.15213 0.14571 0 173.523 848.341)" font-size="100" font-weight="normal" fill="#000" stroke="#000" stroke-width="4.2" stroke-linejoin="round">1953</text>
<text transform="matrix(0 -0.13981 0.13857 0 204.174 426.549)" font-size="100" font-weight="normal" fill="#000" stroke="#000" stroke-width="4.2" stroke-linejoin="round">1956</text>
<text transform="matrix(0 -0.15213 0.14571 0 205.043 848.341)" font-size="100" font-weight="normal" fill="#000" stroke="#000" stroke-width="4.2" stroke-linejoin="round">1956</text>
<text transform="matrix(0 -0.13981 0.13857 0 235.865 426.549)" font-size="100" font-weight="normal" fill="#000" stroke="#000" stroke-width="4.2" stroke-linejoin="round">1959</text>
<text transform="matrix(0 -0.15213 0.14571 0 236.562 848.341)" font-size="100" font-weight="normal" fill="#000" stroke="#000" stroke-width="4.2" stroke-linejoin="round">1959</text>
<text transform="matrix(0 -0.13981 0.13857 0 267.556 426.549)" font-size="100" font-weight="normal" fill="#000" stroke="#000" stroke-width="4.2" stroke-linejoin="round">1962</text>
<text transform="matrix(0 -0.15213 0.14571 0 268.082 848.341)" font-size="100" font-weight="normal" fill="#000" stroke="#000" stroke-width="4.2" stroke-linejoin="round">1962</text>
<text transform="matrix(0 -0.13981 0.13857 0 299.247 426.549)" font-size="100" font-weight="normal" fill="#000" stroke="#000" stroke-width="4.2" stroke-linejoin="round">1965</text>
<text transform="matrix(0 -0.15213 0.14571 0 299.602 848.341)" font-size="100" font-weight="normal" fill="#000" stroke="#000" stroke-width="4.2" stroke-linejoin="round">1965</text>
<text transform="matrix(0 -0.13981 0.13857 0 330.938 426.549)" font-size="100" font-weight="normal" fill="#000" stroke="#000" stroke-width="4.2" stroke-linejoin="round">1968</text>
<text transform="matrix(0 -0.15213 0.14571 0 331.122 848.341)" font-size="100" font-weight="normal" fill="#000" stroke="#000" stroke-width="4.2" stroke-linejoin="round">1968</text>
<text transform="matrix(0 -0.13981 0.13857 0 362.629 426.549)" font-size="100" font-weight="normal" fill="#000" stroke="#000" stroke-width="4.2" stroke-linejoin="round">1971</text>
<text transform="matrix(0 -0.15213 0.14571 0 362.641 848.341)" font-size="100" font-weight="normal" fill="#000" stroke="#000" stroke-width="4.2" stroke-linejoin="round">1971</text>
<text transform="matrix(0 -0.13981 0.13857 0 394.320 426.549)" font-size="100" font-weight="normal" fill="#000" stroke="#000" stroke-width="4.2" stroke-linejoin="round">1974</text>
<text transform="matrix(0 -0.15213 0.14571 0 394.161 848.341)" font-size="100" font-weight="normal" fill="#000" stroke="#000" stroke-width="4.2" stroke-linejoin="round">1974</text>
<text transform="matrix(0 -0.13981 0.13857 0 426.011 426.549)" font-size="100" font-weight="normal" fill="#000" stroke="#000" stroke-width="4.2" stroke-linejoin="round">1977</text>
<text transform="matrix(0 -0.15213 0.14571 0 425.681 848.341)" font-size="100" font-weight="normal" fill="#000" stroke="#000" stroke-width="4.2" stroke-linejoin="round">1977</text>
<text transform="matrix(0 -0.13981 0.13857 0 457.702 426.549)" font-size="100" font-weight="normal" fill="#000" stroke="#000" stroke-width="4.2" stroke-linejoin="round">1980</text>
<text transform="matrix(0 -0.15213 0.14571 0 457.201 848.341)" font-size="100" font-weight="normal" fill="#000" stroke="#000" stroke-width="4.2" stroke-linejoin="round">1980</text>
<text transform="matrix(0 -0.13981 0.13857 0 489.393 426.549)" font-size="100" font-weight="normal" fill="#000" stroke="#000" stroke-width="4.2" stroke-linejoin="round">1983</text>
<text transform="matrix(0 -0.15213 0.14571 0 488.720 848.341)" font-size="100" font-weight="normal" fill="#000" stroke="#000" stroke-width="4.2" stroke-linejoin="round">1983</text>
<text transform="matrix(0 -0.13981 0.13857 0 521.084 426.549)" font-size="100" font-weight="normal" fill="#000" stroke="#000" stroke-width="4.2" stroke-linejoin="round">1986</text>
<text transform="matrix(0 -0.15213 0.14571 0 520.240 848.341)" font-size="100" font-weight="normal" fill="#000" stroke="#000" stroke-width="4.2" stroke-linejoin="round">1986</text>
<text transform="matrix(0 -0.13981 0.13857 0 552.776 426.549)" font-size="100" font-weight="normal" fill="#000" stroke="#000" stroke-width="4.2" stroke-linejoin="round">1989</text>
<text transform="matrix(0 -0.15213 0.14571 0 551.760 848.341)" font-size="100" font-weight="normal" fill="#000" stroke="#000" stroke-width="4.2" stroke-linejoin="round">1989</text>
<text transform="matrix(0 -0.13981 0.13857 0 584.467 426.549)" font-size="100" font-weight="normal" fill="#000" stroke="#000" stroke-width="4.2" stroke-linejoin="round">1992</text>
<text transform="matrix(0 -0.15213 0.14571 0 583.280 848.341)" font-size="100" font-weight="normal" fill="#000" stroke="#000" stroke-width="4.2" stroke-linejoin="round">1992</text>
<text transform="matrix(0 -0.13981 0.13857 0 616.158 426.549)" font-size="100" font-weight="normal" fill="#000" stroke="#000" stroke-width="4.2" stroke-linejoin="round">1995</text>
<text transform="matrix(0 -0.15213 0.14571 0 614.799 848.341)" font-size="100" font-weight="normal" fill="#000" stroke="#000" stroke-width="4.2" stroke-linejoin="round">1995</text>
<text transform="matrix(0 -0.13981 0.13857 0 647.849 426.549)" font-size="100" font-weight="normal" fill="#000" stroke="#000" stroke-width="4.2" stroke-linejoin="round">1998</text>
<text transform="matrix(0 -0.15213 0.14571 0 646.319 848.341)" font-size="100" font-weight="normal" fill="#000" stroke="#000" stroke-width="4.2" stroke-linejoin="round">1998</text>
<text transform="matrix(0 -0.13981 0.13857 0 679.540 426.549)" font-size="100" font-weight="normal" fill="#000" stroke="#000" stroke-width="4.2" stroke-linejoin="round">2001</text>
<text transform="matrix(0 -0.15213 0.14571 0 677.839 848.341)" font-size="100" font-weight="normal" fill="#000" stroke="#000" stroke-width="4.2" stroke-linejoin="round">2001</text>
<text transform="matrix(0 -0.13981 0.13857 0 711.231 426.549)" font-size="100" font-weight="normal" fill="#000" stroke="#000" stroke-width="4.2" stroke-linejoin="round">2004</text>
<text transform="matrix(0 -0.15213 0.14571 0 709.359 848.341)" font-size="100" font-weight="normal" fill="#000" stroke="#000" stroke-width="4.2" stroke-linejoin="round">2004</text>
<text transform="matrix(0 -0.13981 0.13857 0 742.922 426.549)" font-size="100" font-weight="normal" fill="#000" stroke="#000" stroke-width="4.2" stroke-linejoin="round">2007</text>
<text transform="matrix(0 -0.15213 0.14571 0 740.878 848.341)" font-size="100" font-weight="normal" fill="#000" stroke="#000" stroke-width="4.2" stroke-linejoin="round">2007</text>
<text transform="matrix(0 -0.13981 0.13857 0 774.613 426.549)" font-size="100" font-weight="normal" fill="#000" stroke="#000" stroke-width="4.2" stroke-linejoin="round">2010</text>
<text transform="matrix(0 -0.15213 0.14571 0 772.398 848.341)" font-size="100" font-weight="normal" fill="#000" stroke="#000" stroke-width="4.2" stroke-linejoin="round">2010</text>
<text transform="matrix(0 -0.13981 0.13857 0 806.304 426.549)" font-size="100" font-weight="normal" fill="#000" stroke="#000" stroke-width="4.2" stroke-linejoin="round">2013</text>
<text transform="matrix(0 -0.15213 0.14571 0 803.918 848.341)" font-size="100" font-weight="normal" fill="#000" stroke="#000" stroke-width="4.2" stroke-linejoin="round">2013</text>
<text transform="matrix(0 -0.13981 0.13857 0 837.995 426.549)" font-size="100" font-weight="normal" fill="#000" stroke="#000" stroke-width="4.2" stroke-linejoin="round">2016</text>
<text transform="matrix(0 -0.15213 0.14571 0 835.438 848.341)" font-size="100" font-weight="normal" fill="#000" stroke="#000" stroke-width="4.2" stroke-linejoin="round">2016</text>
<text transform="matrix(0 -0.13981 0.13857 0 869.686 426.549)" font-size="100" font-weight="normal" fill="#000" stroke="#000" stroke-width="4.2" stroke-linejoin="round">2019</text>
<text transform="matrix(0 -0.15213 0.14571 0 866.957 848.341)" font-size="100" font-weight="normal" fill="#000" stroke="#000" stroke-width="4.2" stroke-linejoin="round">2019</text>
<text transform="matrix(0 -0.13981 0.13857 0 901.377 426.549)" font-size="100" font-weight="normal" fill="#000" stroke="#000" stroke-width="4.2" stroke-linejoin="round">2022</text>
<text transform="matrix(0 -0.15213 0.14571 0 898.477 848.341)" font-size="100" font-weight="normal" fill="#000" stroke="#000" stroke-width="4.2" stroke-linejoin="round">2022</text>
<text transform="matrix(0 -0.13981 0.13857 0 933.068 426.549)" font-size="100" font-weight="normal" fill="#000" stroke="#000" stroke-width="4.2" stroke-linejoin="round">2025</text>
<text transform="matrix(0 -0.15213 0.14571 0 929.997 848.341)" font-size="100" font-weight="normal" fill="#000" stroke="#000" stroke-width="4.2" stroke-linejoin="round">2025</text>
<text transform="matrix(0.15172 0 0 0.14286 395.422 598.800)" font-size="100" font-weight="bold" font-style="normal" fill="#000">49,6</text>
<text transform="matrix(0.14855 0 0 0.15362 885.906 767.000)" font-size="100" font-weight="bold" font-style="normal" fill="#000">-54,4</text>
</svg>
</body></html>
